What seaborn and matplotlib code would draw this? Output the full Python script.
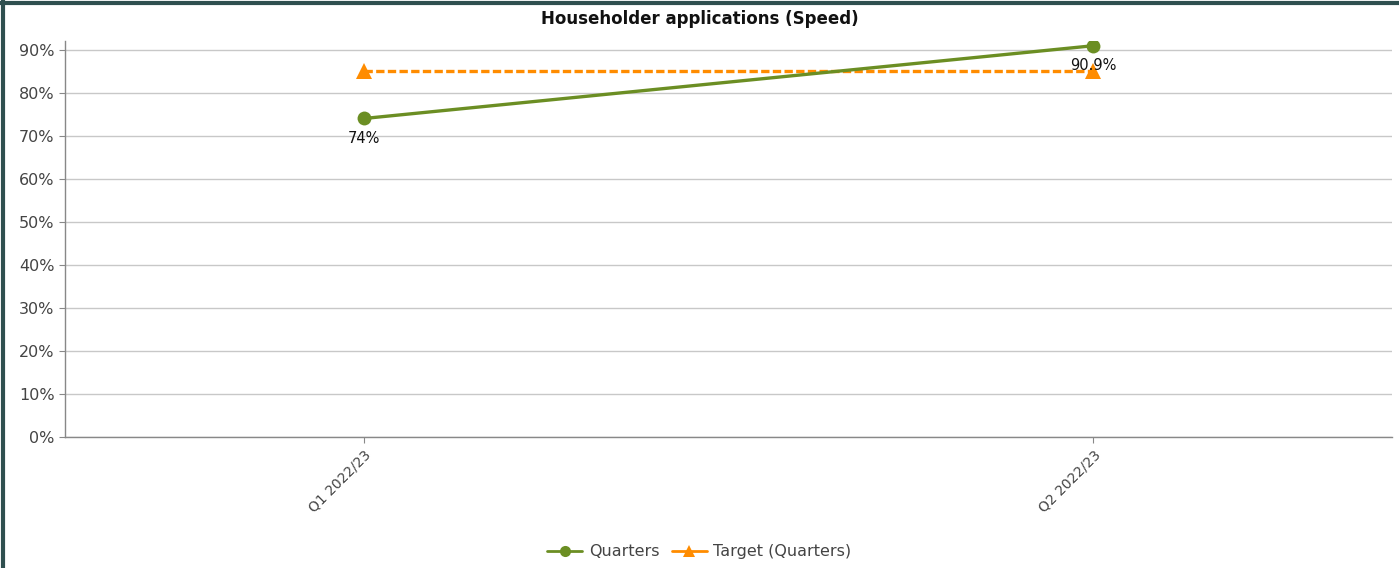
import numpy as np
import pandas as pd
import matplotlib
matplotlib.use("Agg")
import matplotlib.pyplot as plt
import seaborn as sns
from matplotlib.lines import Line2D

# data
quarters = ["Q1 2022/23", "Q2 2022/23"]
actual = [74.0, 90.9]
target = [85.0, 85.0]
actual_labels = ["74%", "90.9%"]

green = "#6b8e23"
orange = "#ff8c00"

sns.set_style("white")
plt.rcParams['font.family'] = ['DejaVu Sans']

df = pd.DataFrame({"quarter": quarters * 2,
                   "value": actual + target,
                   "series": ["Quarters"] * 2 + ["Target (Quarters)"] * 2})

fig = plt.figure(figsize=(13.99, 5.68), dpi=100)
ax = fig.add_axes([0.0465, 0.2306, 0.9485, 0.6972])

sns.lineplot(data=df[df.series == "Quarters"], x="quarter", y="value",
             color=green, lw=2.4, marker="o", markersize=10, markeredgewidth=0,
             ax=ax, zorder=4)
sns.lineplot(data=df[df.series == "Target (Quarters)"], x="quarter", y="value",
             color=orange, lw=2.4, ls=(0, (2.5, 1)), marker="^", markersize=12,
             markeredgewidth=0, ax=ax, zorder=3)

for i, (v, lab) in enumerate(zip(actual, actual_labels)):
    ax.annotate(lab, (i, v), xytext=(0, -9), textcoords="offset points",
                ha="center", va="top", fontsize=10.5, color="#111111", zorder=5)

ax.set_xlim(-0.41, 1.41)
ax.set_ylim(0, 92)
ax.set_yticks(np.arange(0, 100, 10))
ax.set_yticklabels([f"{t}%" for t in range(0, 100, 10)])
ax.yaxis.grid(True, color="#c8c8c8", lw=1)
ax.set_xlabel("")
ax.set_ylabel("")
ax.set_title("Householder applications (Speed)", fontsize=12, fontweight="bold",
             color="#111111", pad=12, x=0.478)

for s in ["top", "right"]:
    ax.spines[s].set_visible(False)
for s in ["left", "bottom"]:
    ax.spines[s].set_color("#888888")
    ax.spines[s].set_linewidth(1)

ax.tick_params(axis="y", which="both", left=True, length=4, color="#888888",
               labelsize=11.5, labelcolor="#444444")
ax.tick_params(axis="x", which="both", bottom=True, length=4, color="#888888",
               labelsize=10, labelcolor="#444444")
plt.setp(ax.get_xticklabels(), rotation=45, ha="right", rotation_mode="anchor")

# legend uses solid handles like the original
handles = [Line2D([], [], color=green, lw=2, marker="o", markersize=8, markeredgewidth=0),
           Line2D([], [], color=orange, lw=2, marker="^", markersize=9, markeredgewidth=0)]
ax.legend(handles, ["Quarters", "Target (Quarters)"], loc="center",
          bbox_to_anchor=(0.478, -0.29), ncol=2, frameon=False,
          fontsize=11.5, handlelength=2.2, handletextpad=0.4, columnspacing=0.8,
          labelcolor="#444444")

# dark frame on the left and top edges
fig.add_artist(Line2D([0.002, 0.002], [0, 1], color="#2f4f4f", lw=3, transform=fig.transFigure))
fig.add_artist(Line2D([0, 1], [0.995, 0.995], color="#2f4f4f", lw=3, transform=fig.transFigure))

fig.savefig("out.png", dpi=100)
